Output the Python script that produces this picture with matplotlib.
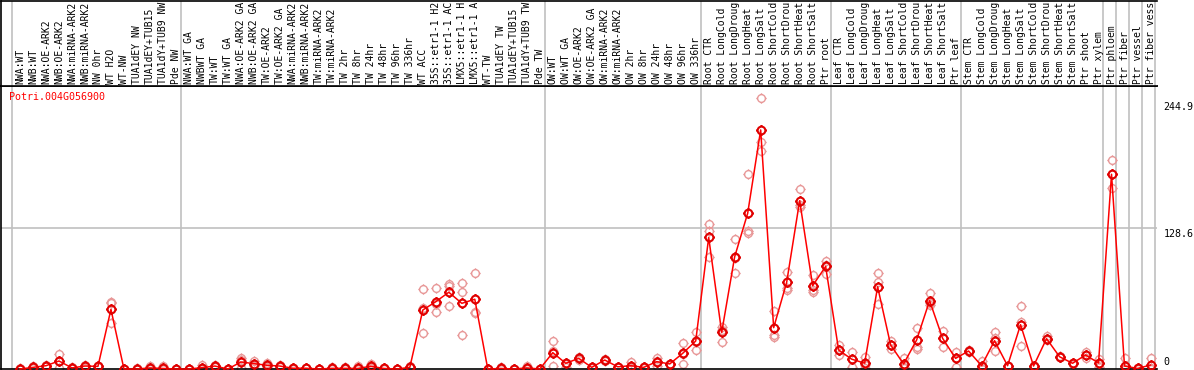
import numpy as np
import matplotlib
matplotlib.use("Agg")
import matplotlib.pyplot as plt
from matplotlib.path import Path

gene = "Potri.004G056900"

# sample names as far as they show in the label strip (14 characters)
samples = [
    "NWA:WT", "NWB:WT", "NWA:OE-ARK2", "NWB:OE-ARK2", "NWA:miRNA-ARK2",
    "NWB:miRNA-ARK2", "NW 0hr", "WT H2O", "WT-NW", "TUA1dEY NW",
    "TUA1dEY+TUB15", "TUA1dY+TUB9 NW", "Pde NW",
    "NWA:WT GA", "NWBWT GA", "TW:WT", "TW:WT GA", "NWA:OE-ARK2 GA",
    "NWB:OE-ARK2 GA", "TW:OE-ARK2", "TW:OE-ARK2 GA", "NWA:miRNA-ARK2",
    "NWB:miRNA-ARK2", "TW:miRNA-ARK2", "TW:miRNA-ARK2", "TW 2hr", "TW 8hr",
    "TW 24hr", "TW 48hr", "TW 96hr", "TW 336hr", "WT ACC",
    "35S::etr1-1 H2", "35S::etr1-1 AC", "LMX5::etr1-1 H",
    "LMX5::etr1-1 A", "WT-TW", "TUA1dEY TW", "TUA1dEY+TUB15",
    "TUA1dY+TUB9 TW", "Pde TW",
    "OW:WT", "OW:WT GA", "OW:OE-ARK2", "OW:OE-ARK2 GA", "OW:miRNA-ARK2",
    "OW:miRNA-ARK2", "OW 2hr", "OW 8hr", "OW 24hr", "OW 48hr", "OW 96hr",
    "OW 336hr",
    "Root CTR", "Root LongCold", "Root LongDroug", "Root LongHeat",
    "Root LongSalt", "Root ShortCold", "Root ShortDrou", "Root ShortHeat",
    "Root ShortSalt", "Ptr root",
    "Leaf CTR", "Leaf LongCold", "Leaf LongDroug", "Leaf LongHeat",
    "Leaf LongSalt", "Leaf ShortCold", "Leaf ShortDrou", "Leaf ShortHeat",
    "Leaf ShortSalt", "Ptr leaf",
    "Stem CTR", "Stem LongCold", "Stem LongDroug", "Stem LongHeat",
    "Stem LongSalt", "Stem ShortCold", "Stem ShortDrou", "Stem ShortHeat",
    "Stem ShortSalt", "Ptr shoot", "Ptr xylem",
    "Ptr phloem", "Ptr fiber", "Ptr vessel", "Ptr fiber vess",
]

# index of the first sample of each group (vertical separators)
group_starts = [0, 13, 41, 53, 63, 73, 84, 85, 86, 87, 88]

mean_vals = [
    0, 1.5, 3, 7.3, 1, 2.7, 2.4, 54.4, 0, 0, 1, 0.5, 0,
    0, 1.2, 2.7, 0, 6.4, 4.9, 3.4, 2.7, 0.7, 0.7, 0, 0.6, 0.6, 0.5, 2.5,
    0.5, 0, 1.5, 53.8, 61.4, 70, 59.9, 63.6, 0, 0.5, 0, 1, 0,
    14.9, 5.2, 9.7, 1.5, 8.2, 2, 3, 1.5, 6.7, 4.6, 14.3, 25.5,
    120, 33.4, 102.4, 142, 218, 37.7, 79, 153.5, 76, 93.5,
    17.3, 9, 5.3, 75, 21.9, 4.6, 26.4, 62.3, 28, 9.7,
    16.4, 3, 25.8, 3, 40.4, 2.7, 27.7, 11.2, 5.2, 12.8, 5.5,
    177.6, 2.7, 0.5, 3.6,
]

rep1 = [
    0, 3, 3.5, 13.7, 1, 4, 3, 60.8, 0, 0, 3, 3, 0,
    0, 3.5, 3.5, 0, 10.3, 7.3, 5.5, 3.5, 1, 1, 0, 1.5, 1.5, 3, 4.5,
    1, 0, 2.5, 72.7, 73.6, 77.5, 78.4, 87.3, 0, 1.5, 0, 3, 0,
    25.5, 5.5, 11, 1.5, 9.5, 2, 6, 2, 10, 5, 23.7, 34,
    132, 38, 118.6, 177.6, 246.9, 52.9, 88.5, 163.8, 85.7, 98.8,
    22, 15.8, 10.6, 87.3, 25.8, 10.3, 37, 69, 34.7, 15.8,
    17, 7, 33.7, 3, 57.5, 2.7, 30, 12, 5.2, 15.8, 9,
    190.6, 10.3, 0.5, 10.3,
]
rep2 = [
    0.5, 1, 3, 7, 1.5, 3, 2.5, 60, 0, 0, 0.5, 0, 0,
    0, 0.5, 3, 0, 8, 5, 3, 2.5, 1, 0.5, 0, 0, 0.5, 0, 2,
    0.5, 0, 1.5, 56, 59, 76, 70.2, 52.3, 0, 0, 0, 0.5, 0,
    16, 5, 10, 1.5, 8, 2, 2, 1.5, 7, 4.5, 14, 25,
    126, 36, 101, 126.3, 207.4, 31, 74, 149.5, 72.5, 95,
    17.3, 9, 4, 79, 21.9, 2, 20, 60, 28, 10,
    16.4, 2, 28, 3, 43, 2.5, 27, 11, 5, 13, 5,
    177.5, 0, 0.5, 1,
]
rep3 = [
    0, 0.5, 2.5, 1, 0.5, 1, 1.5, 42.3, 0, 0.5, 0, 0, 0,
    0, 0, 1.5, 0, 1, 2.5, 1.5, 2, 0, 0.5, 0, 0.5, 0, 0, 1,
    0, 0, 0.5, 32.5, 51.7, 57.5, 31.3, 51, 0, 0, 0, 0, 0,
    2.7, 1.5, 8, 1, 7, 2, 1, 1, 3, 4, 5, 17.3,
    102, 24.3, 87.3, 124, 198.8, 29, 72.5, 147.5, 70, 86.6,
    12.8, 2, 1, 59.3, 18, 1, 18, 58, 20.3, 2,
    15.5, 0, 16, 2.5, 21, 2, 26, 10.5, 4.5, 10, 2,
    164.8, 0, 0, 0,
]

ytick_vals = [244.9, 128.6, 0]


def ring_marker():
    # open circle with four short ticks, like the reference glyphs
    circ = Path.unit_circle()
    verts = list(circ.vertices)
    codes = list(circ.codes)
    for dx, dy in [(0, 1), (0, -1), (1, 0), (-1, 0)]:
        verts += [(dx * 1.0, dy * 1.0), (dx * 1.35, dy * 1.35)]
        codes += [Path.MOVETO, Path.LINETO]
    return Path(verts, codes)


mk = ring_marker()
x = np.arange(len(samples))

W, H, dpi = 1194, 370, 100
fig = plt.figure(figsize=(W / dpi, H / dpi), dpi=dpi)
plt.rcParams["font.family"] = "DejaVu Sans Mono"

ax_left, ax_right = 0.5, 1157
plot_top, plot_bot = 86, 369
ax = fig.add_axes([ax_left / W, (H - plot_bot) / H,
                   (ax_right - ax_left) / W, (plot_bot - plot_top) / H])
lab = fig.add_axes([ax_left / W, (H - plot_top) / H,
                    (ax_right - ax_left) / W, (plot_top - 0.5) / H])

xlim = (-1.5, 87.5)
ax.set_xlim(*xlim)
ax.set_ylim(0, 258.1)
lab.set_xlim(*xlim)
lab.set_ylim(0, 1)

for a in (ax, lab):
    a.set_xticks([])
    a.set_yticks([])
    for s in a.spines.values():
        s.set_color("black")
        s.set_linewidth(1.2)
    a.spines["right"].set_visible(False)

# group separators
for g in group_starts:
    for a in (ax, lab):
        a.axvline(g - 0.62, color="#c0c0c0", lw=1.2, zorder=1)

ax.axhline(128.6, color="#c0c0c0", lw=1.2, zorder=1)

# sample labels
for i, name in enumerate(samples):
    lab.text(i, 0.02, name, rotation=90, ha="center", va="bottom",
             fontsize=7.0, color="black", clip_on=True)

# replicate points
for r in (rep1, rep2, rep3):
    ax.plot(x, r, linestyle="none", marker=mk, markersize=7.5,
            markerfacecolor="none", markeredgecolor="#e89898",
            markeredgewidth=1.0, zorder=2, clip_on=False)

# mean line
ax.plot(x, mean_vals, color="#ff0000", lw=1.1, marker=mk, markersize=7.5,
        markerfacecolor="none", markeredgecolor="#e00000",
        markeredgewidth=1.5, zorder=3, clip_on=False)

ax.text(9 / (ax_right - ax_left), (plot_bot - 97) / (plot_bot - plot_top),
        gene, transform=ax.transAxes, color="#ff0000", fontsize=7.2,
        ha="left", va="center")

# right-hand value labels
for v in ytick_vals:
    va = "top" if v > 0 else "bottom"
    ax.text(1163 / (ax_right - ax_left), v + (-1 if v > 0 else 2),
            f"{v:g}", transform=ax.get_yaxis_transform(), fontsize=7.2,
            ha="left", va=va, clip_on=False)

fig.savefig("out.png", dpi=dpi)
